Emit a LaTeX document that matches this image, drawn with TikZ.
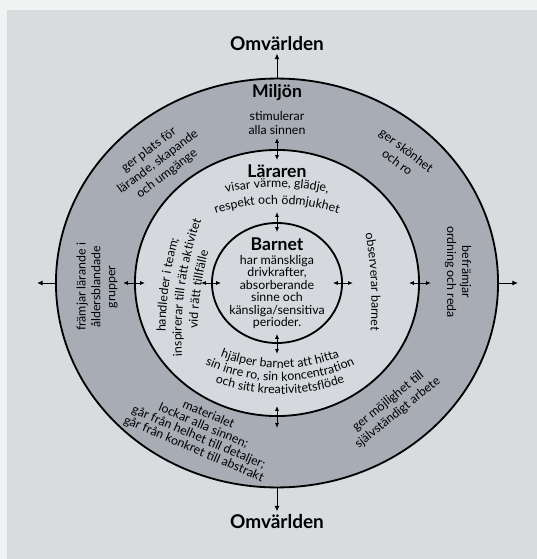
\documentclass[tikz,border=0pt]{standalone}
\usepackage{fontspec}
\setmainfont{Lato}
\usetikzlibrary{shapes,arrows.meta,positioning,calc,decorations.text}

\definecolor{paperWhite}{RGB}{241,242,242}
\definecolor{pageGray}{RGB}{216,220,223}
\definecolor{ringGray}{RGB}{168,172,180}
\definecolor{coreGray}{RGB}{213,217,221}

\newcommand{\ringfont}{\fontsize{8.8}{10.6}\selectfont}
\newcommand{\corefont}{\fontsize{8.8}{8.9}\selectfont}

\tikzset{
  ring/.style={ellipse, draw, line width=1.3pt, inner sep=0pt},
  title/.style={font=\fontsize{12.5}{14}\selectfont\bfseries, inner sep=1.5pt},
  worldlabel/.style={font=\fontsize{13.5}{15}\selectfont\bfseries, inner sep=1.5pt},
  ringtext/.style={font=\ringfont, align=center, inner sep=0pt},
  outarrow/.style={-{Latex[length=4pt,width=3.5pt]}, line width=0.7pt},
  twoway/.style={{Latex[length=3.5pt,width=3pt]}-{Latex[length=3.5pt,width=3pt]}, line width=0.7pt},
  bent/.style={decorate, decoration={text along path, text align=center, text={#1}}}
}

\begin{document}
\begin{tikzpicture}[x=0.025cm, y=0.025cm]
  % paper and page
  \useasboundingbox (-277,-276) rectangle (260,283);
  \fill[paperWhite] (-277,-276) rectangle (260,283);
  \fill[pageGray] (-270,-276) rectangle (260,273);

  % the three rings
  \node[ring, fill=ringGray, minimum width=11.05cm, minimum height=10.22cm] (miljo) at (0,0) {};
  \node[ring, fill=coreGray, minimum width=7.1cm, minimum height=6.65cm] (lararen) at (0,0) {};
  \node[ring, fill=coreGray, minimum width=3.25cm, minimum height=3cm] (barnet) at (0,0) {};

  % out to the world
  \node[worldlabel, anchor=base] (omvTop) at (0,232) {Omvärlden};
  \node[worldlabel, anchor=base] (omvBottom) at (0,-245) {Omvärlden};
  \coordinate (westTip) at (-240,0);
  \coordinate (eastTip) at (241,0);
  \draw[outarrow] (miljo.north) -- (omvTop.south);
  \draw[outarrow] (miljo.south) -- (omvBottom.north);
  \draw[outarrow] (miljo.west) -- (westTip);
  \draw[outarrow] (miljo.east) -- (eastTip);

  % two-way arrows across the inner borders
  \foreach \ring/\half in {lararen/11, barnet/10} {
    \draw[twoway] ($(\ring.north)-(0,\half)$) -- ($(\ring.north)+(0,\half)$);
    \draw[twoway] ($(\ring.south)-(0,\half)$) -- ($(\ring.south)+(0,\half)$);
    \draw[twoway] ($(\ring.west)-(\half,0)$) -- ($(\ring.west)+(\half,0)$);
    \draw[twoway] ($(\ring.east)-(\half,0)$) -- ($(\ring.east)+(\half,0)$);
  }

  % outer ring: Miljön
  \node[title, anchor=base] (miljoTitle) at (0,185) {Miljön};
  \node[ringtext] (stimulerar) at (0,160) {stimulerar\\alla sinnen};
  \node[ringtext, rotate=37] (platsFor) at (-119,121) {ger plats för\\lärande, skapande\\och umgänge};
  \node[ringtext, rotate=-37] (skonhet) at (125,127) {ger skönhet\\och ro};
  \node[ringtext, rotate=90] (framjar) at (-180,-4) {främjar lärande i\\åldersblandade\\grupper};
  \node[ringtext, rotate=-90] (befamjar) at (181,11) {befrämjar\\ordning och reda};
  \node[ringtext, rotate=39] (mojlighet) at (116,-124) {ger möjlighet till\\självständigt arbete};
  \node[ringtext, font=\corefont, rotate=-23] (material) at (-76,-149)
    {materialet\\lockar alla sinnen;\\går från helhet till detaljer;\\går från konkret till abstrakt};

  % middle ring: Läraren
  \node[title, anchor=base] (lararenTitle) at (0,105) {Läraren};
  \coordinate (visarC) at (0,-125);
  \path[bent={|\ringfont|visar värme, glädje,}] ([shift={(115:221)}]visarC) arc (115:65:221);
  \path[bent={|\ringfont|respekt och ödmjukhet}] ([shift={(115:204)}]visarC) arc (115:65:204);
  \coordinate (hjalperC) at (3,80);
  \path[bent={|\ringfont|hjälper barnet att hitta}] ([shift={(235:165)}]hjalperC) arc (235:305:165);
  \path[bent={|\ringfont|sin inre ro, sin koncentration}] ([shift={(235:178)}]hjalperC) arc (235:305:178);
  \path[bent={|\ringfont|och sitt kreativitetsflöde}] ([shift={(235:191)}]hjalperC) arc (235:305:191);
  \coordinate (handlederC) at (254.5,-53);
  \path[bent={|\ringfont|handleder i team;}] ([shift={(197:366)}]handlederC) arc (197:147:366);
  \path[bent={|\ringfont|inspirerar till rätt aktivitet}] ([shift={(197:350)}]handlederC) arc (197:147:350);
  \path[bent={|\ringfont|vid rätt tillfälle}] ([shift={(197:334)}]handlederC) arc (197:147:334);
  \coordinate (observerarC) at (-305.5,-20);
  \path[bent={|\ringfont|observerar barnet}] ([shift={(28:400)}]observerarC) arc (28:-22:400);

  % centre: Barnet
  \node[title, anchor=base] (barnetTitle) at (0,32) {Barnet};
  \node[ringtext, font=\corefont] (barnetText) at (0,-9)
    {har mänskliga\\drivkrafter,\\absorberande\\sinne och\\känsliga/sensitiva\\perioder.};
\end{tikzpicture}
\end{document}
